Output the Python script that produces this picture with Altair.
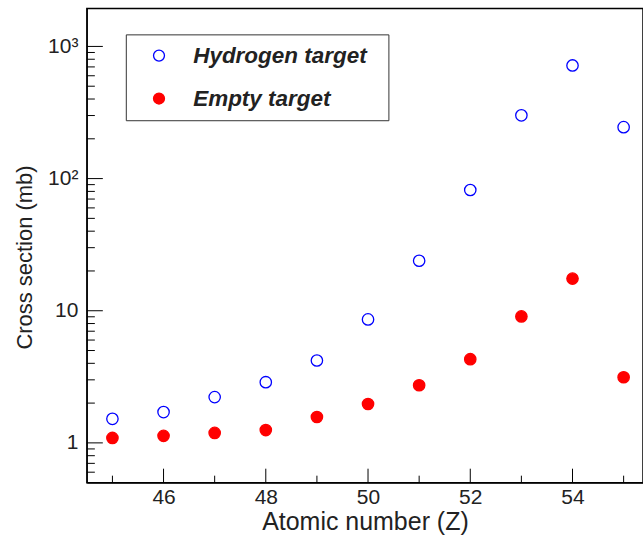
import altair as alt
import pandas as pd

# ---- data ----
z_values = [45, 46, 47, 48, 49, 50, 51, 52, 53, 54, 55]
hydrogen_cs = [1.52, 1.71, 2.22, 2.88, 4.2, 8.6, 23.9, 82, 301, 718, 245]
empty_cs = [1.09, 1.13, 1.19, 1.25, 1.57, 1.97, 2.73, 4.3, 9.06, 17.5, 3.14]
series_names = ["Hydrogen target", "Empty target"]

x_major = [46, 48, 50, 52, 54]
x_minor = [45, 47, 49, 51, 53, 55]
y_major = [1, 10, 100, 1000]
y_minor = [0.6, 0.7, 0.8, 0.9,
           2, 3, 4, 5, 6, 7, 8, 9,
           20, 30, 40, 50, 60, 70, 80, 90,
           200, 300, 400, 500, 600, 700, 800, 900]

df = pd.DataFrame({
    "Z": z_values * 2,
    "cs": hydrogen_cs + empty_cs,
    "series": [series_names[0]] * len(z_values) + [series_names[1]] * len(z_values),
})

W, H = 557, 475
FONT = "Liberation Sans"
xscale = alt.Scale(domain=[44.5, 44.5 + W / 51.2], nice=False, zero=False)
yscale = alt.Scale(type="log", domain=[0.5, 1940], nice=False)

# invisible legend title placed on the right only widens the legend frame
LEGEND = dict(title="M", titleOrient="right", titleOpacity=0, titleFontSize=12, titlePadding=2)

points = alt.Chart(df).mark_point(size=130, strokeWidth=1.3, opacity=1, filled=True).encode(
    x=alt.X("Z:Q", scale=xscale,
            axis=alt.Axis(values=x_major, ticks=False, tickSize=0, grid=False,
                          labelFontSize=21, labelPadding=4, labelColor="#222",
                          domainColor="#000", title="Atomic number (Z)",
                          titleFontSize=25, titleFontWeight="normal", titleColor="#222",
                          titleBaseline="alphabetic", titleY=47)),
    y=alt.Y("cs:Q", scale=yscale,
            axis=alt.Axis(values=y_major, ticks=False, tickSize=0, grid=False,
                          labelFontSize=21, labelPadding=9, labelColor="#222",
                          domainColor="#000",
                          labelExpr="datum.value == 1 ? '1' : datum.value == 10 ? '10' : datum.value == 100 ? '10\u00b2' : '10\u00b3'",
                          title="Cross section (mb)", titleFontSize=22,
                          titleFontWeight="normal", titleColor="#222",
                          titleAngle=-90, titleBaseline="alphabetic",
                          titleX=-55, titleY=249, titleAlign="center")),
    stroke=alt.Stroke("series:N", scale=alt.Scale(domain=series_names, range=["#0000ff", "#ff0000"]),
                      legend=alt.Legend(**LEGEND)),
    fill=alt.Fill("series:N", scale=alt.Scale(domain=series_names, range=["#ffffff", "#ff0000"]),
                  legend=alt.Legend(**LEGEND)),
)

ymaj = alt.Chart(pd.DataFrame({"v": y_major})).mark_rule(color="#000", strokeWidth=1).encode(
    y=alt.Y("v:Q", scale=yscale), x=alt.value(0), x2=alt.value(16))
ymin = alt.Chart(pd.DataFrame({"v": y_minor})).mark_rule(color="#000", strokeWidth=1).encode(
    y=alt.Y("v:Q", scale=yscale), x=alt.value(0), x2=alt.value(8))
xmaj = alt.Chart(pd.DataFrame({"v": x_major})).mark_rule(color="#000", strokeWidth=1).encode(
    x=alt.X("v:Q", scale=xscale), y=alt.value(H), y2=alt.value(H - 14))
xmin = alt.Chart(pd.DataFrame({"v": x_minor})).mark_rule(color="#000", strokeWidth=1).encode(
    x=alt.X("v:Q", scale=xscale), y=alt.value(H), y2=alt.value(H - 7))

chart = alt.layer(points, ymaj, ymin, xmaj, xmin).properties(
    width=W, height=H,
    autosize=alt.AutoSizeParams(type="none"),
    padding={"left": 87, "top": 8, "right": 0, "bottom": 53},
).configure(font=FONT).configure_view(
    stroke="#000", strokeWidth=1.5
).configure_legend(
    orient="none", legendX=39, legendY=26,
    strokeColor="#333", strokeWidth=1, fillColor="#ffffff",
    padding=10, rowPadding=20, symbolSize=120, symbolStrokeWidth=1.3,
    symbolOffset=12, labelOffset=23,
    labelFont=FONT, labelFontSize=22.5, labelFontWeight="bold", labelFontStyle="italic",
    labelColor="#222", labelLimit=400,
    cornerRadius=0,
)

chart.save("out.html", embed_options={"renderer": "svg", "actions": False})
